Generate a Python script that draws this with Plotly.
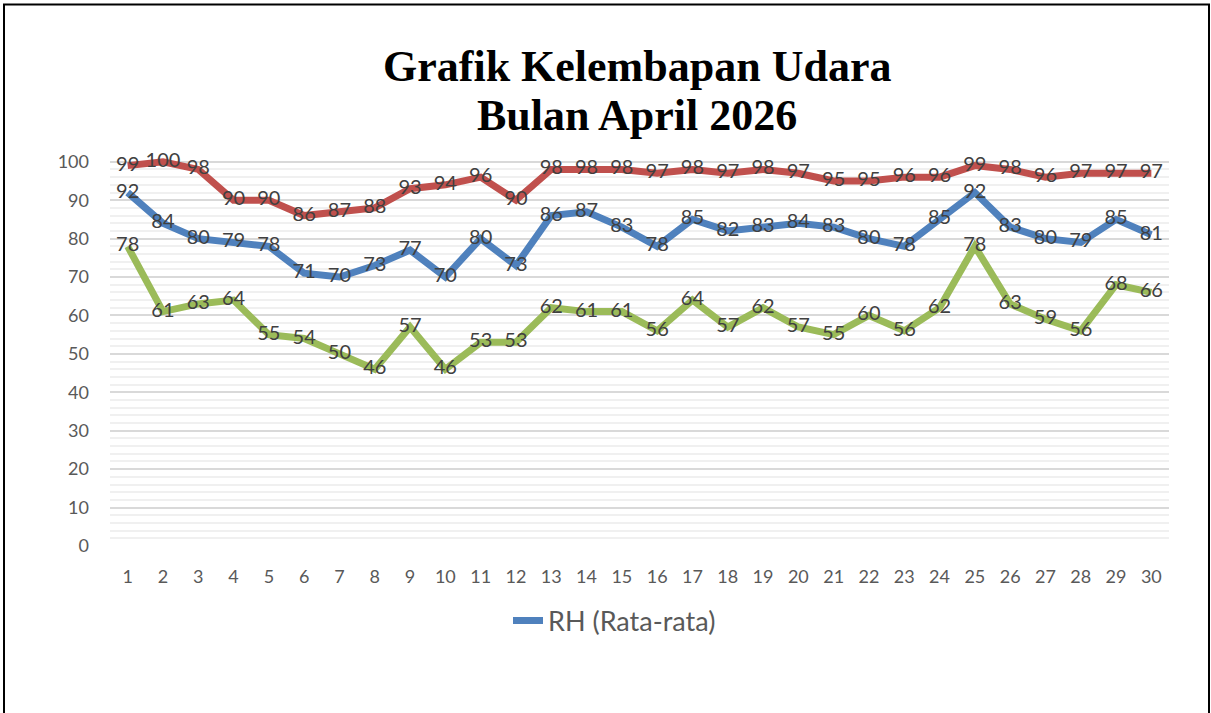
import plotly.graph_objects as go

days = list(range(1, 31))
rh_max = [99, 100, 98, 90, 90, 86, 87, 88, 93, 94, 96, 90, 98, 98, 98, 97, 98, 97, 98, 97,
          95, 95, 96, 96, 99, 98, 96, 97, 97, 97]
rh_avg = [92, 84, 80, 79, 78, 71, 70, 73, 77, 70, 80, 73, 86, 87, 83, 78, 85, 82, 83, 84,
          83, 80, 78, 85, 92, 83, 80, 79, 85, 81]
rh_min = [78, 61, 63, 64, 55, 54, 50, 46, 57, 46, 53, 53, 62, 61, 61, 56, 64, 57, 62, 57,
          55, 60, 56, 62, 78, 63, 59, 56, 68, 66]
y_ticks = list(range(0, 101, 10))
title_lines = ["Grafik Kelembapan Udara", "Bulan April 2026"]

W, H = 1211, 713
ML, MR, MT, MB = 110, 42, 156, 167
PW, PH = W - ML - MR, H - MT - MB
Y0_PX = H - MB  # pixel of y=0

def px_x(p):
    return (p - ML) / PW

def px_y(p):
    return (Y0_PX - p) / PH

RED, BLUE, GREEN = "#C0504D", "#4F81BD", "#9BBB59"
LABEL = "#404040"
FONT = "Lato, Calibri, sans-serif"

fig = go.Figure()
series = [("RH (Maksimum)", rh_max, RED, False),
          ("RH (Rata-rata)", rh_avg, BLUE, True),
          ("RH (Minimum)", rh_min, GREEN, False)]
for name, vals, col, show in series:
    fig.add_trace(go.Scatter(x=days, y=vals, mode="lines", name=name,
                             line=dict(color=col, width=7), showlegend=show))
for name, vals, col, show in series:
    fig.add_trace(go.Scatter(x=days, y=vals, mode="text", text=[str(v) for v in vals],
                             textposition="middle center", showlegend=False,
                             textfont=dict(family=FONT, size=20, color=LABEL),
                             cliponaxis=False, hoverinfo="skip"))

fig.update_xaxes(range=[0.5, 30.5], tickmode="array", tickvals=days,
                 ticktext=[str(d) for d in days], showgrid=False, zeroline=False,
                 showline=False, ticks="", ticklabelstandoff=18,
                 tickfont=dict(family=FONT, size=18, color="#595959"))
fig.update_yaxes(range=[0, 101.5], tickmode="array", tickvals=y_ticks,
                 showgrid=True, gridcolor="#D9D9D9", gridwidth=1.5, zeroline=False,
                 showline=False, ticks="", ticklabelstandoff=20,
                 tickfont=dict(family=FONT, size=18, color="#595959"),
                 minor=dict(tickmode="array", tickvals=[v for v in range(2, 100, 2) if v % 10],
                            showgrid=True, gridcolor="#F0F0F0", gridwidth=1.5))

for line, cy in zip(title_lines, [67, 116]):
    fig.add_annotation(xref="paper", yref="paper", x=px_x(637), y=px_y(cy),
                       text="<b>" + line + "</b>", showarrow=False,
                       xanchor="center", yanchor="middle", align="center",
                       font=dict(family="Liberation Serif, Cambria, serif", size=44,
                                 color="#000000"))

fig.add_shape(type="rect", xref="paper", yref="paper",
              x0=px_x(4), x1=px_x(1209), y0=px_y(4.5), y1=px_y(730),
              line=dict(color="#000000", width=2), layer="above")

fig.update_layout(width=W, height=H, margin=dict(l=ML, r=MR, t=MT, b=MB),
                  paper_bgcolor="white", plot_bgcolor="white",
                  legend=dict(orientation="h", x=px_x(508), y=px_y(621), xanchor="left",
                              yanchor="middle", font=dict(family=FONT, size=27, color="#595959"),
                              bgcolor="rgba(0,0,0,0)"),
                  showlegend=True)

fig.write_html("out.html", config={"displayModeBar": False},
               post_script="document.body.style.margin='0';document.body.style.overflow='hidden';")
